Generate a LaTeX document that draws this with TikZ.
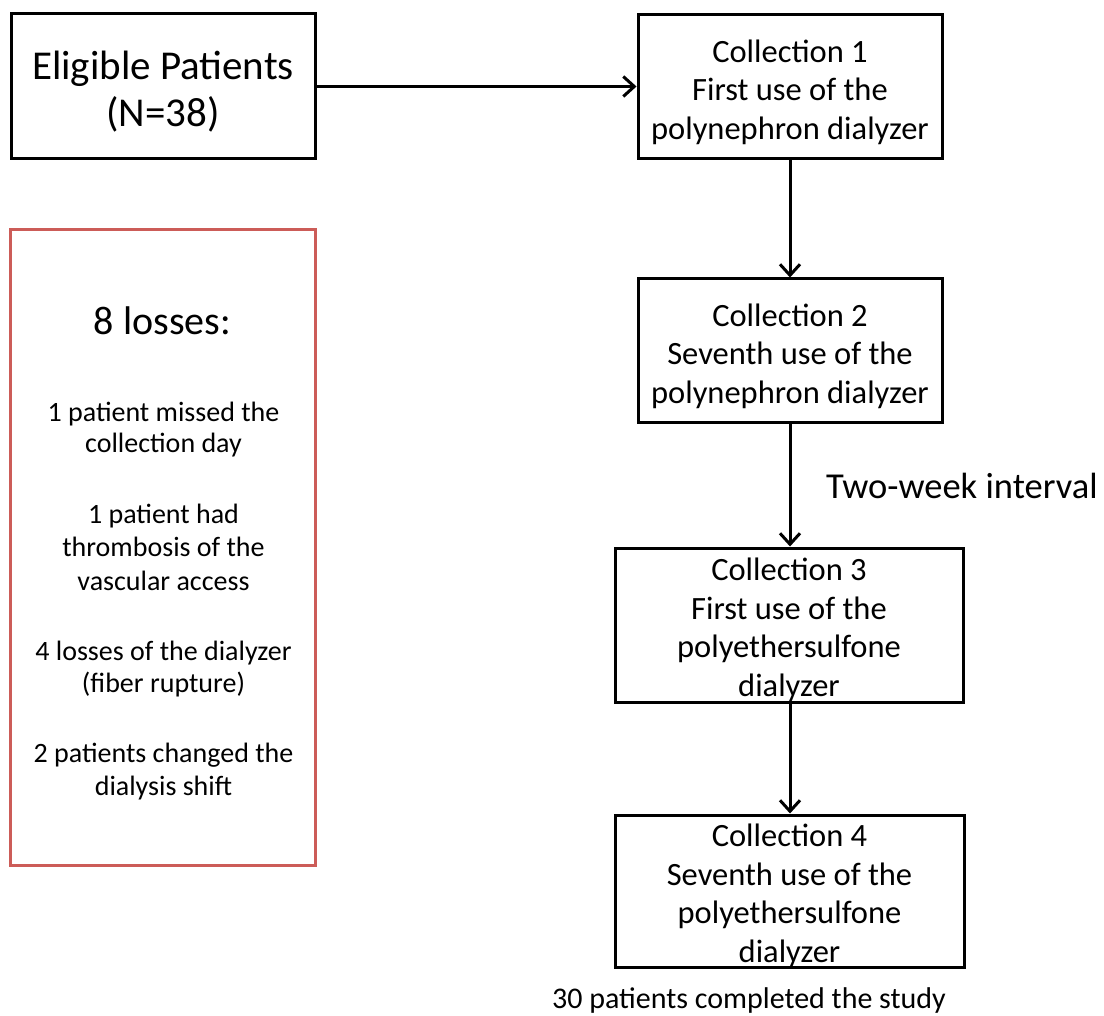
\documentclass[tikz,border=0pt]{standalone}
\usepackage{fontspec}
\setmainfont{Carlito}
\usetikzlibrary{arrows.meta}
\definecolor{lossred}{RGB}{204,92,88}
\begin{document}
\begin{tikzpicture}[x=1pt,y=-1pt,
  blackbox/.style={draw=black, line width=3pt, inner sep=0pt},
  boxtxt/.style={inner sep=0pt, align=center, font=\fontsize{32.5}{38.5}\selectfont},
  flow/.style={line width=3pt, -{Straight Barb[length=11pt,width=20pt]}},
  losstxt/.style={anchor=base, font=\fontsize{28}{33}\selectfont, inner sep=0pt},
  plaintxt/.style={inner sep=0pt}]
\useasboundingbox (0,0) rectangle (1104,1016);
% boxes
\node[blackbox, minimum width=304pt, minimum height=145pt] (elig) at (163,86.5) {};
\node[boxtxt, font=\fontsize{41}{47}\selectfont] (eligt) at (163,91.5) {Eligible Patients\\(N=38)};
\node[blackbox, minimum width=304pt, minimum height=144pt] (c1) at (790,87) {};
\node[boxtxt] (c1t) at (790,92) {Collection 1\\First use of the\\polynephron dialyzer};
\node[blackbox, minimum width=304pt, minimum height=144pt] (c2) at (790,351) {};
\node[boxtxt] (c2t) at (790,356) {Collection 2\\Seventh use of the\\polynephron dialyzer};
\node[blackbox, minimum width=348pt, minimum height=154pt] (c3) at (789,625) {};
\node[boxtxt] (c3t) at (789,630) {Collection 3\\First use of the\\polyethersulfone\\dialyzer};
\node[blackbox, minimum width=349pt, minimum height=152pt] (c4) at (789.5,891) {};
\node[boxtxt] (c4t) at (789.5,896) {Collection 4\\Seventh use of the\\polyethersulfone\\dialyzer};
% connectors
\draw[flow] (elig.east) -- (elig.east -| c1.west);
\draw[flow] (c1.south) -- (c2.north);
\draw[flow] (c2.south) -- (c2.south |- c3.north);
\draw[flow] (c2.south |- c3.south) -- (c2.south |- c4.north);
% labels
\node[plaintxt, anchor=base west, font=\fontsize{36.5}{42}\selectfont] (interval) at (826,498) {Two-week interval};
\node[plaintxt, anchor=base, font=\fontsize{30}{36}\selectfont] (done) at (749,1008) {30 patients completed the study};
% losses box
\node[draw=lossred, line width=3pt, minimum width=305pt, minimum height=635pt, inner sep=0pt] (losses) at (162.5,547.5) {};
\node[plaintxt, anchor=base, font=\fontsize{40}{47}\selectfont] (ltitle) at (162.5,335) {8 losses:};
\node[losstxt] (l1) at (163.5,422) {1 patient missed the};
\node[losstxt] (l2) at (163.5,453) {collection day};
\node[losstxt] (l3) at (163.5,523) {1 patient had};
\node[losstxt] (l4) at (163.5,556) {thrombosis of the};
\node[losstxt] (l5) at (163.5,590) {vascular access};
\node[losstxt] (l6) at (163.5,660) {4 losses of the dialyzer};
\node[losstxt] (l7) at (163.5,692) {(fiber rupture)};
\node[losstxt] (l8) at (163.5,762) {2 patients changed the};
\node[losstxt] (l9) at (163.5,795) {dialysis shift};
\end{tikzpicture}
\end{document}
